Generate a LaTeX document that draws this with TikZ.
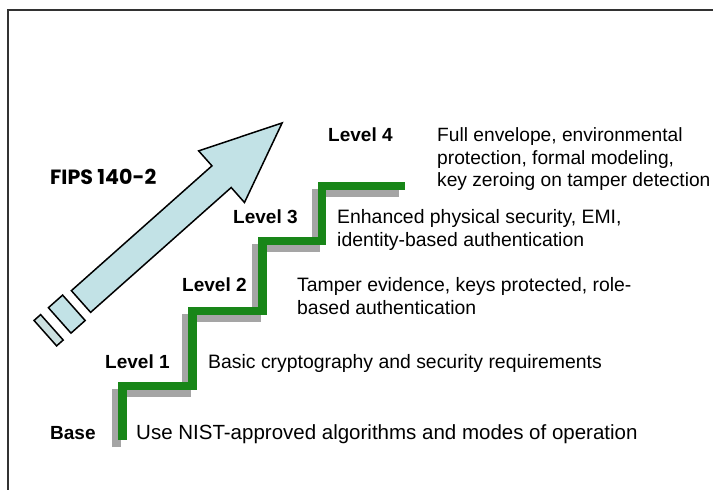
\documentclass[tikz,border=0pt]{standalone}
\usepackage{fontspec}
\setmainfont{Liberation Sans}
\newfontfamily\fipsfont{Poppins}
\definecolor{stairgreen}{RGB}{24,134,24}
\definecolor{stairshadow}{RGB}{165,165,165}
\definecolor{arrowfill}{RGB}{194,226,230}
\definecolor{tailfill}{RGB}{204,224,224}
\definecolor{framecol}{RGB}{50,50,50}
\begin{document}
\begin{tikzpicture}[x=1pt,y=-1pt,
  levellabel/.style={font=\bfseries\fontsize{19}{22}\selectfont, anchor=base west, inner sep=0pt},
  desc/.style={font=\fontsize{19.4}{22.6}\selectfont, anchor=base west, inner sep=0pt, align=left},
  stair/.style={line width=8.5pt, miter limit=10},
  arrowbody/.style={draw=black, line width=1.5pt, fill=arrowfill, line join=miter},
  tailbody/.style={draw=black, line width=1.5pt, fill=tailfill}]
\useasboundingbox (0,0) rectangle (713,490);
\fill[white] (0,0) rectangle (713,490);

% frame
\draw[framecol, line width=1.2pt] (8,490) -- (8,10) -- (713,10);

% rising arrow with its two tail blocks
\begin{scope}[shift={(81,301.5)}, rotate=41.6]
  \draw[arrowbody] (0,-14.5) -- (188,-14.5) -- (188,-34.5) -- (269,0)
    -- (188,34.5) -- (188,14.5) -- (0,14.5) -- cycle;
  \draw[arrowbody] (-9.5,-17) rectangle (-28.5,17);
  \draw[tailbody] (-38.9,-17) rectangle (-47.7,17);
\end{scope}

% staircase with drop shadow
\draw[stair, stairshadow, shift={(-6,7)}]
  (122.5,440) -- (122.5,386) -- (192.5,386) -- (192.5,311) -- (262.5,311)
  -- (262.5,241) -- (322,241) -- (322,186) -- (405,186);
\draw[stair, stairgreen]
  (122.5,440) -- (122.5,386) -- (192.5,386) -- (192.5,311) -- (262.5,311)
  -- (262.5,241) -- (322,241) -- (322,186) -- (405,186);

% title
\node[anchor=base west, inner sep=0pt, font=\fipsfont\bfseries\fontsize{20.6}{24}\selectfont] (fips) at (50,184) {FIPS 140-2};

% level labels
\node[levellabel] (base) at (50,439) {Base};
\node[levellabel] (l1) at (105,368) {Level 1};
\node[levellabel] (l2) at (182,291.7) {Level 2};
\node[levellabel] (l3) at (233,223.3) {Level 3};
\node[levellabel] (l4) at (328,141.7) {Level 4};

% descriptions (multi-line nodes sit on the baseline of their last line)
\node[desc, font=\fontsize{20.5}{24}\selectfont] (dbase) at (136,439) {Use NIST-approved algorithms and modes of operation};
\node[desc] (d1) at (208,368) {Basic cryptography and security requirements};
\node[desc] (d2) at (297,314.3) {Tamper evidence, keys protected, role-\\based authentication};
\node[desc] (d3) at (337,246.2) {Enhanced physical security, EMI,\\identity-based authentication};
\node[desc, font=\fontsize{19.2}{22.6}\selectfont] (d4) at (437,186.9) {Full envelope, environmental\\protection, formal modeling,\\key zeroing on tamper detection};
\end{tikzpicture}
\end{document}
